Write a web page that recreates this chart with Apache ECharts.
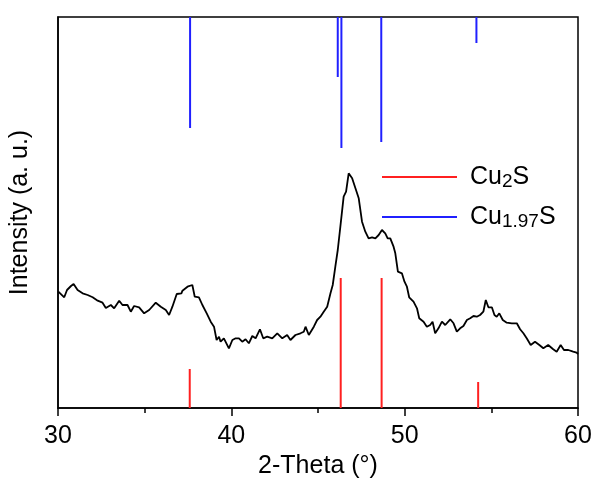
<!DOCTYPE html>
<html><head><meta charset="utf-8">
<script src="https://cdn.jsdelivr.net/npm/echarts@6/dist/echarts.min.js"></script>
<style>html,body{margin:0;padding:0;background:#fff}#c{width:595px;height:484px}</style>
</head><body><div id="c"></div>
<script>
// XRD pattern: 2-theta (deg) and intensity (a.u.)
var theta = [30.02,30.36,30.52,30.75,30.90,31.13,31.42,31.71,32.00,32.29,32.57,32.76,33.05,33.24,33.53,33.72,34.01,34.20,34.39,34.68,34.97,35.26,35.64,35.93,36.22,36.41,36.60,36.85,37.12,37.18,37.47,37.75,37.89,38.13,38.33,38.58,38.81,39.00,39.15,39.29,39.38,39.57,39.86,40.06,40.25,40.44,40.63,40.82,41.01,41.21,41.40,41.65,41.84,42.07,42.36,42.65,42.94,43.22,43.41,43.70,43.99,44.18,44.28,44.37,44.47,44.57,44.76,44.95,45.14,45.33,45.53,45.72,45.85,46.00,46.14,46.29,46.39,46.48,46.62,46.77,46.97,47.16,47.35,47.54,47.73,47.92,48.12,48.31,48.50,48.69,48.88,49.02,49.17,49.36,49.46,49.61,49.84,49.99,50.13,50.26,50.51,50.71,50.84,51.09,51.28,51.47,51.61,51.76,51.95,52.15,52.34,52.63,52.82,53.01,53.20,53.39,53.59,53.78,53.97,54.16,54.35,54.54,54.68,54.83,55.03,55.18,55.31,55.46,55.66,55.89,56.18,56.47,56.66,56.85,57.04,57.27,57.52,57.77,58.00,58.28,58.57,58.77,59.00,59.19,59.44,59.72,59.92,60.00];
var intensity = [116.3,110.7,118,122,124,118,114.7,113,110.7,107.3,105.3,100,103,99.7,107.3,103,103,96.3,102,100.7,94.7,98,105.3,101.3,98,93,101.3,114,114.7,117.3,121.3,123,111.3,110.7,103,94.7,86.3,81.3,68,71.3,66.3,69.7,59.7,68,69.7,69.7,66.3,68.7,64.7,72,69.7,78.7,69.7,71.3,69.7,74.7,69.7,73,68,73,74.7,76.3,81.3,83,73,74.7,81.3,88,91.3,96.3,101.3,114.7,123,141.3,158,181.3,183,211.3,216.3,234.7,229.7,219.7,209.7,186.3,176.3,169.7,170.7,169.7,173,178,174.7,169.7,169.7,161.3,154.7,136.3,134.7,126.3,121.3,110.7,106.3,99.7,89.7,86.3,81.3,83,86.3,74.7,79.7,86.3,83,88.7,84.7,76.3,79.7,82,88,89.7,92,91.3,93,96.3,108,100.7,100.7,93,91.3,94.7,88,85.3,84.7,84.7,78.7,74.7,69.7,63,66.3,63,59.7,63,58.7,56.3,63,58,58,56.3,55.3,54];
// Reference peaks
var cu2sPos = [37.60, 46.31, 48.67, 54.24];
var cu2sHeight = [39, 130, 130, 26];
var cu197sPos = [37.62, 46.14, 46.35, 48.65, 54.14];
var cu197sBottom = [280, 331, 260, 266, 365];
var yTop = 391;

var curve = theta.map(function(t,i){return [t,intensity[i]];});
var redData = cu2sPos.map(function(p,i){return [p,0,cu2sHeight[i]];});
var blueData = cu197sPos.map(function(p,i){return [p,cu197sBottom[i],yTop];});

function stick(color){
  return function(params, api){
    var a = api.coord([api.value(0), api.value(1)]);
    var b = api.coord([api.value(0), api.value(2)]);
    return {type:'line', shape:{x1:a[0],y1:a[1],x2:b[0],y2:b[1]}, style:{stroke:color,lineWidth:2}};
  };
}

var chart = echarts.init(document.getElementById('c'), null, {renderer:'canvas'});
var fam = 'Liberation Sans, Arial, sans-serif';
var rich = {a:{fontSize:25,fontFamily:fam,color:'#000',lineHeight:28},s:{fontSize:19,fontFamily:fam,color:'#000',verticalAlign:'bottom',padding:[14,0,0,0],lineHeight:28}};
chart.setOption({
  animation:false,
  backgroundColor:'#fff',
  grid:{left:57,right:17,top:17,bottom:76,show:true,borderColor:'#000',borderWidth:1.5},
  legend:{
    orient:'vertical', left:382, top:158, padding:0, itemWidth:75, itemHeight:2, itemGap:7,
    icon:'rect',
    data:[{name:'Cu2S',itemStyle:{color:'#ff2020'}},{name:'Cu1.97S',itemStyle:{color:'#2020ff'}}],
    formatter:function(n){ return n==='Cu2S' ? '{a|Cu}{s|2}{a|S}' : '{a|Cu}{s|1.97}{a|S}'; },
    textStyle:{rich:rich, padding:[0,0,0,8]}
  },
  xAxis:{type:'value',min:30,max:60,interval:10,
    axisLine:{show:true,lineStyle:{color:'#000',width:1.5}},
    axisTick:{show:true,length:8,inside:false,lineStyle:{color:'#000',width:1.5}},
    minorTick:{show:true,splitNumber:2,length:5,lineStyle:{color:'#000',width:1.5}},
    splitLine:{show:false},
    axisLabel:{fontSize:25,fontFamily:fam,color:'#000',margin:16},
    name:'2-Theta (°)',nameLocation:'middle',nameGap:46,
    nameTextStyle:{fontSize:25,fontFamily:fam,color:'#000'}},
  yAxis:{type:'value',min:0,max:yTop,
    axisLine:{show:true,lineStyle:{color:'#000',width:1.5}},
    axisTick:{show:false},axisLabel:{show:false},splitLine:{show:false},
    name:'Intensity (a. u.)',nameLocation:'middle',nameGap:25,
    nameTextStyle:{fontSize:25,fontFamily:fam,color:'#000'}},
  series:[
    {type:'line',name:'pattern',data:curve,symbol:'none',lineStyle:{color:'#000',width:1.8},z:3},
    {type:'custom',name:'Cu2S',data:redData,renderItem:stick('#ff2020'),itemStyle:{color:'#ff2020'},z:2},
    {type:'custom',name:'Cu1.97S',data:blueData,renderItem:stick('#2020ff'),itemStyle:{color:'#2020ff'},z:2}
  ]
});
</script></body></html>
